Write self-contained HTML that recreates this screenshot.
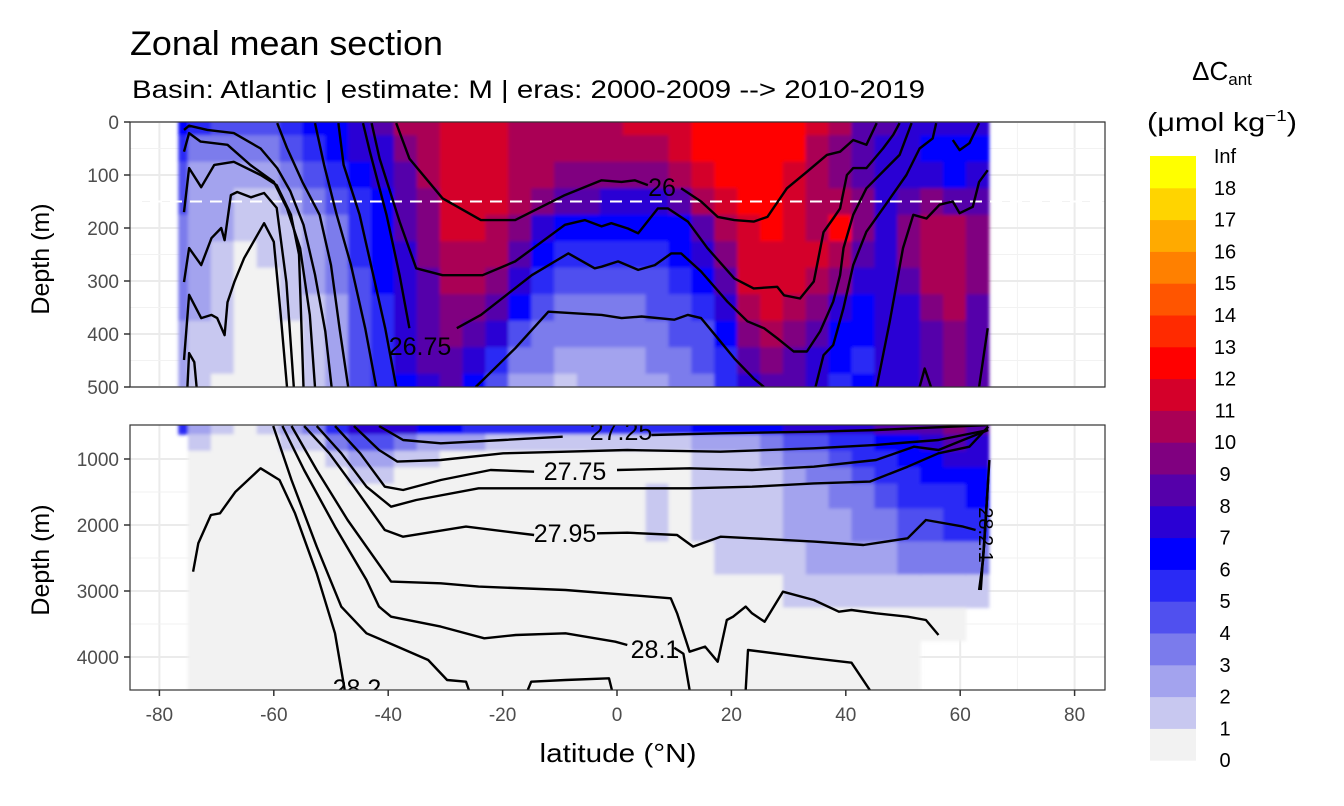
<!DOCTYPE html>
<html><head><meta charset="utf-8"><style>
body{margin:0;background:#fff;}
svg{display:block;font-family:"Liberation Sans",Arial,sans-serif;}
</style></head><body>
<svg id="chart" width="1344" height="806" viewBox="0 0 1344 806">
<defs>
<clipPath id="clipTop"><rect x="130" y="122" width="975" height="265"/></clipPath>
<clipPath id="clipBot"><rect x="130" y="425" width="975" height="265"/></clipPath>
<filter id="soft" x="-5%" y="-5%" width="110%" height="110%"><feGaussianBlur stdDeviation="1.6"/></filter>
</defs>
<text x="130" y="55" font-size="34" textLength="313" lengthAdjust="spacingAndGlyphs" fill="#000">Zonal mean section</text>
<text x="132" y="98" font-size="25" textLength="793" lengthAdjust="spacingAndGlyphs" fill="#000">Basin: Atlantic | estimate: M  | eras: 2000-2009 --&gt; 2010-2019</text>
<g id="gridTop"></g>
<g id="gridBot"></g>
<g clip-path="url(#clipTop)"><g id="heatTop" filter="url(#soft)"></g></g>
<g clip-path="url(#clipBot)"><g id="heatBot" filter="url(#soft)"></g></g>
<line x1="130" x2="1105" y1="201.5" y2="201.5" stroke="#fff" stroke-width="2" stroke-dasharray="12,8"/>
<g id="contTop" clip-path="url(#clipTop)"></g>
<g id="contBot" clip-path="url(#clipBot)"></g>
<g font-size="25" fill="#000">
<text x="662" y="196" text-anchor="middle">26</text>
<text x="420" y="355" text-anchor="middle">26.75</text>
<g clip-path="url(#clipBot)">
<text x="621" y="440" text-anchor="middle">27.25</text>
<text x="575" y="480" text-anchor="middle">27.75</text>
<text x="565" y="542" text-anchor="middle">27.95</text>
<text x="655" y="658" text-anchor="middle">28.1</text>
<text x="357" y="697" text-anchor="middle">28.2</text>
<text x="0" y="0" font-size="20" transform="translate(979,535) rotate(90)" text-anchor="middle">28.2.1</text>
</g>
</g>
<rect x="130" y="122" width="975" height="265" fill="none" stroke="#333" stroke-width="1.2"/>
<rect x="130" y="425" width="975" height="265" fill="none" stroke="#333" stroke-width="1.2"/>
<g id="axes" font-size="19" fill="#4d4d4d"></g>
<text transform="translate(49,259) rotate(-90)" text-anchor="middle" font-size="25">Depth (m)</text>
<text transform="translate(49,560) rotate(-90)" text-anchor="middle" font-size="25">Depth (m)</text>
<text x="618" y="762" text-anchor="middle" font-size="26" textLength="157" lengthAdjust="spacingAndGlyphs">latitude (°N)</text>
<g>
<text x="1222" y="80" text-anchor="middle" font-size="26">ΔC<tspan font-size="17" dy="5">ant</tspan></text>
<text x="1222" y="131" text-anchor="middle" font-size="26" textLength="150" lengthAdjust="spacingAndGlyphs">(μmol kg<tspan font-size="16" dy="-10">−1</tspan><tspan dy="10">)</tspan></text>
<g id="legendBins"></g>
</g>
</svg>
<script>
const NS='http://www.w3.org/2000/svg';
const lats=[-77,-73,-69,-65,-61,-57,-53,-49,-45,-41,-37,-33,-29,-25,-21,-17,-13,-9,-5,-1,3,7,11,15,19,23,27,31,35,39,43,47,51,55,59,63];
const topDepths=[0,50,100,150,200,250,300,350,400,450,500];
const bottomDepths=[500,750,1000,1250,1500,2000,2500,3000,3500,4000,4500];
const topValues=[
[6,5,4,4,3,3,3,3,2,2,2],[5,3,2,2,2,2,2,2,1,1,1],[4,3,2,2,2,1,1,1,1,1,0],[4,3,2,1,1,0,0,0,0,0,0],
[4,3,2,1,1,1,0,0,0,0,0],[5,4,3,2,1,1,1,1,0,0,0],[6,5,4,3,2,2,2,1,1,1,1],[6,6,5,4,3,3,3,2,2,2,2],
[7,7,6,5,5,5,4,4,4,4,4],[8,7,7,6,6,6,6,5,5,5,5],[10,9,8,8,8,7,7,7,7,7,6],[10,10,10,9,9,9,8,8,8,8,7],
[11,11,11,11,11,10,10,9,9,8,8],[11,11,11,11,11,10,10,9,8,7,6],[11,11,11,11,10,10,9,8,7,5,4],[10,10,10,10,9,8,7,6,4,3,2],
[10,10,10,9,7,6,5,4,3,3,2],[10,10,9,8,6,5,4,3,3,2,1],[10,10,9,8,6,5,4,3,3,2,2],[10,10,9,7,6,5,4,3,3,2,2],
[11,10,9,7,6,5,4,3,3,2,2],[11,10,9,7,6,5,4,4,3,3,2],[11,11,10,8,6,6,5,4,4,3,3],[12,12,11,10,8,7,6,5,4,4,3],
[12,12,12,11,10,9,8,7,6,5,5],[12,12,12,12,11,11,11,10,9,8,7],[12,12,12,12,12,11,11,11,10,9,8],[12,12,11,11,11,11,11,10,9,8,8],
[11,10,10,10,10,11,10,9,8,7,7],[10,9,9,10,12,10,9,7,6,6,5],[8,8,8,9,9,8,7,6,6,5,6],[8,7,7,7,7,7,7,7,7,7,7],
[7,7,7,8,9,9,8,7,7,7,7],[7,6,7,9,10,10,10,9,8,8,8],[7,6,6,8,10,10,10,10,9,9,9],[7,6,7,8,9,9,9,8,8,8,8]];
const N=null;
const bottomValues=[
[5,N,N,N,N,N,N,N,N,N,N],[2,1,0,0,0,0,0,0,0,0,0],[1,0,0,0,0,0,0,0,0,0,0],[0,0,0,0,0,0,0,0,0,0,0],
[1,0,0,0,0,0,0,0,0,0,0],[2,1,0,0,0,0,0,0,0,0,0],[3,1,0,0,0,0,0,0,0,0,0],[5,3,1,0,0,0,0,0,0,0,0],
[7,4,2,1,0,0,0,0,0,0,0],[7,4,2,1,0,0,0,0,0,0,0],[7,3,1,0,0,0,0,0,0,0,0],[6,2,1,0,0,0,0,0,0,0,0],
[6,2,0,0,0,0,0,0,0,0,0],[5,2,0,0,0,0,0,0,0,0,0],[5,1,0,0,0,0,0,0,0,0,0],[5,1,0,0,0,0,0,0,0,0,0],
[5,1,0,0,0,0,0,0,0,0,0],[5,1,0,0,0,0,0,0,0,0,0],[5,1,0,0,0,0,0,0,0,0,0],[5,1,0,0,0,0,0,0,0,0,0],
[5,1,0,0,0,0,0,0,0,0,0],[5,1,0,0,1,1,0,0,0,0,0],[5,1,0,0,0,0,0,0,0,0,0],[6,2,1,1,1,1,0,0,0,0,0],
[6,2,1,1,1,1,1,0,0,0,0],[6,2,1,1,1,1,1,0,0,0,0],[6,3,2,1,1,1,1,0,0,0,0],[7,4,3,2,2,2,1,1,0,0,0],
[7,4,3,3,2,2,2,1,0,0,0],[7,5,4,3,3,2,2,1,0,0,0],[7,5,5,4,3,3,2,1,0,0,0],[8,6,5,5,4,3,2,1,0,0,0],
[8,6,6,5,5,4,3,1,0,0,0],[8,7,6,6,5,4,3,1,0,N,N],[9,8,7,6,5,5,3,1,0,N,N],[8,7,7,6,6,5,3,1,N,N,N]];
const binColors=['#f2f2f2','#c8c8f0','#a3a3ee','#7b7bec','#5050ef','#2a2af5','#0000ff','#2a00d4','#5500aa','#800080','#aa0055','#d4002a','#ff0000','#ff2a00','#ff5500','#ff8000','#ffaa00','#ffd400','#ffff00'];
const binLabels=['0','1','2','3','4','5','6','7','8','9','10','11','12','13','14','15','16','17','18','Inf'];
const xTicks=[-80,-60,-40,-20,0,20,40,60,80];
const topYTicks=[0,100,200,300,400,500];
const bottomYTicks=[1000,2000,3000,4000];
const topContours=[
[[-75.7,15],[-74.8,7],[-71.6,15],[-67,21],[-62.3,50],[-59.4,87],[-57.1,131],[-54.8,194],[-52.8,288],[-51,395],[-49.9,500]],
[[-75.7,56],[-74.8,21],[-72.8,37],[-68.1,43],[-64.1,81],[-60,113],[-57.7,163],[-55.4,238],[-53.7,364],[-52.8,500]],
[[-75.7,170],[-74.8,87],[-72.7,123],[-70.4,81],[-67,75],[-62.3,100],[-59.5,119],[-57,175],[-55.6,250],[-54.8,500]],
[[-75.7,302],[-74.8,238],[-72.7,270],[-70.9,219],[-69.2,200],[-68.6,223],[-67.5,138],[-66.4,132],[-64,142],[-61.7,134],[-59.5,162],[-57.8,302],[-56.5,500]],
[[-75.7,449],[-74.8,326],[-72.7,370],[-70.9,364],[-69.9,370],[-68.6,402],[-68.1,340],[-66.9,302],[-65.2,257],[-61.7,191],[-60,226],[-58.8,364],[-57.7,500]],
[[-75.1,500],[-74.8,436],[-73.9,453],[-73.5,500]],
[[-59.4,2],[-57.7,49],[-55,113],[-52,175],[-50,270],[-48.5,390],[-47,500]],
[[-52.8,2],[-51.2,81],[-49,175],[-46.5,270],[-44,390],[-42.1,500]],
[[-48.7,2],[-47.8,81],[-45,175],[-43,270],[-40.5,390],[-38.6,500]],
[[-44.4,2],[-43.2,56],[-40.3,175],[-38,289],[-36.3,389]],
[[-28,389],[-23.8,364],[-14.9,289],[-8.5,248],[-3.9,276],[-2.7,273],[0.2,263],[3.7,279],[6.6,270],[9.5,248],[11.2,248],[14.7,282],[19.3,339],[22.8,376],[25.7,389],[28,408],[30.9,433],[33.2,433],[35.5,395],[37.8,339],[39,289],[39.6,238],[41.3,175],[43.6,125],[47.1,87],[49.4,62],[51.5,2]],
[[-42.9,2],[-41.5,69],[-38,188],[-35.1,276],[-30.5,289],[-23.5,289],[-17.8,263],[-9.1,194],[-5.6,185],[-2.7,197],[-1,191],[1.9,201],[3.7,210],[7.15,163],[8.9,163],[12.4,188],[15.8,238],[20.5,295],[23.9,314],[28,311],[29.2,327],[32,333],[34.4,301],[36.1,208],[37.8,182],[39,163],[40.2,100],[41.3,87],[43.6,87],[46.5,50],[48.3,24],[49.4,2]],
[[-38.6,2],[-36.3,69],[-30.5,144],[-23.8,185],[-17.8,185],[-9.1,138],[-2.7,110],[0.8,113],[3.1,110],[5.4,119]],
[[11.2,125],[14.7,150],[17.6,179],[20.5,185],[23.9,188],[26.3,179],[29.7,125],[33.2,94],[36.7,62],[39,56],[41.3,34],[43.6,43],[45.4,2]],
[[-24.7,500],[-17.8,427],[-12,358],[-2.7,364],[0.8,370],[4.3,367],[10,373],[12.4,364],[14.7,370],[17.6,408],[20.5,446],[23.9,484],[25.7,500]],
[[34.7,500],[36.1,440],[37.8,421],[39.6,351],[41.3,270],[43.6,207],[46.5,163],[50.6,100],[52.9,50],[55.2,31],[55.8,2]],
[[45.4,500],[47.7,376],[50,238],[51.8,175],[54.1,182],[56.4,156],[58.7,150],[59.9,172],[62.2,160],[63.3,113],[64.8,91]],
[[63.3,500],[64.8,389]],
[[52.9,500],[53.8,465],[54.9,500]],
[[58.7,34],[59.9,53],[61.6,40],[63.3,2]]];
const bottomContours=[
[[-74.1,2707],[-73.2,2278],[-71,1848],[-69.4,1823],[-66.7,1495],[-62.3,1141],[-59,1318],[-56.3,1823],[-52.5,2732],[-49.3,3641],[-47.6,4500]],
[[-60.1,500],[-56.9,1318],[-52.5,2328],[-48.2,3238],[-43.8,3641],[-38.4,3843],[-33,4045],[-29.7,4348],[-26.4,4374],[-25.9,4500]],
[[-58.5,500],[-54.7,1167],[-49.3,2025],[-43.8,2833],[-41.6,3237],[-39.5,3389],[-30.8,3539],[-23.2,3717],[-17.7,3666],[-9,3641],[-0.3,3768],[1.8,3818]],
[[10,3860],[11.6,3950],[12.7,4500]],
[[22.5,4500],[22.9,3894],[34.4,4020],[41,4086],[44.2,4500]],
[[-56.9,500],[-52.5,1167],[-47.1,1924],[-39.5,2858],[-30.8,2884],[-24.2,2934],[-9,2985],[9.4,3111],[10.5,3338],[12.7,3919],[15.4,3843],[17.6,4071],[19.2,3439],[20.3,3389],[22.5,3237],[23.6,3338],[25.8,3465],[29,3010],[34.4,3136],[38.8,3313],[41,3288],[45.3,3338],[50.8,3389],[54,3439],[56.2,3667]],
[[-54.7,500],[-50.3,914],[-46,1419],[-40.6,2076],[-37.4,2177],[-26.4,2025],[-14.5,2151]],
[[-3.5,2126],[1.8,2116],[10.5,2151],[13.3,2328],[18.1,2177],[23.6,2202],[34.4,2252],[43.1,2303],[50.8,2202],[54,1924],[60.5,2025],[62.7,2076]],
[[-52.5,500],[-48.2,914],[-43.8,1419],[-39.5,1722],[-35.1,1621],[-24.2,1444],[-9,1444],[1.8,1444],[12.7,1444],[23.6,1419],[34.4,1369],[44.2,1343],[50.8,1116],[56.2,914],[61.6,813],[64.9,510]],
[[-49.3,500],[-44.9,914],[-40.6,1419],[-37.4,1470],[-30.8,1318],[-22.1,1167],[-14.5,1192]],
[[0,1167],[12.7,1141],[23.6,1167],[34.4,1116],[45.3,1015],[51.9,813],[56.2,864],[60.5,712],[64.9,560]],
[[-46,500],[-41.6,864],[-38.4,1040],[-30.8,1015],[-19.9,914],[-9,889],[1.8,864],[18.1,889],[34.4,838],[45.3,787],[56.2,712],[64.9,560]],
[[-41.6,500],[-37.4,712],[-30.8,762],[-19.9,712],[-9.5,662]],
[[6,636],[18.1,611],[34.4,586],[45.3,560],[64.9,485]],
[[65.1,1015],[64.4,1975],[63.6,2985]],
[[64.7,1571],[64,2530],[63.3,2985]],
[[64.9,1300],[64.2,2300],[63.5,2930]],
[[-15.6,4500],[-15,4374],[-9,4348],[-1.4,4323],[-0.9,4500]]];

const xS=l=>617+l*5.72;
const yTop=d=>122+d*0.53;
const yBot=d=>459+(d-1000)*0.066;
const LAT_MIN=-76.7, LAT_MAX=65;
function binColor(v){let k=Math.floor(v);if(k<0)k=0;if(k>18)k=18;return binColors[k];}
function bounds(arr,lo,hi){const b=[lo];for(let i=1;i<arr.length;i++)b.push((arr[i-1]+arr[i])/2);b.push(hi);return b;}
function drawHeat(g,values,depths,d0,d1,yf,prefix,extTop,extBot){
  const xb=bounds(lats,LAT_MIN,LAT_MAX), yb=bounds(depths,d0,d1);
  values.forEach((col,i)=>{col.forEach((v,j)=>{
    if(v===null)return;
    const r=document.createElementNS(NS,'rect');
    const x0=xS(xb[i]),x1=xS(xb[i+1]);
    let y0=yf(yb[j]),y1=yf(yb[j+1]);
    if(j===0)y0-=extTop; if(j===col.length-1)y1+=extBot;
    r.setAttribute('x',x0);r.setAttribute('y',y0);
    r.setAttribute('width',x1-x0+0.6);r.setAttribute('height',y1-y0+0.6);
    r.setAttribute('fill',binColor(v));
    
    
    g.appendChild(r);});});
}
drawHeat(document.getElementById('heatTop'),topValues,topDepths,0,500,yTop,'top-heatmap',6,6);
drawHeat(document.getElementById('heatBot'),bottomValues,bottomDepths,500,4500,yBot,'bottom-heatmap',6,6);
function drawCont(g,lines,yf){
  lines.forEach(pts=>{
    const p=document.createElementNS(NS,'path');
    p.setAttribute('d',pts.map((q,i)=>(i?'L':'M')+xS(q[0]).toFixed(1)+','+yf(q[1]).toFixed(1)).join(''));
    p.setAttribute('fill','none');p.setAttribute('stroke','#000');p.setAttribute('stroke-width','2.4');
    p.setAttribute('stroke-linejoin','round');
    
    
    g.appendChild(p);});
}
drawCont(document.getElementById('contTop'),topContours,yTop);
drawCont(document.getElementById('contBot'),bottomContours,yBot);
function line(g,x1,y1,x2,y2,c,w,name){const l=document.createElementNS(NS,'line');
  l.setAttribute('x1',x1);l.setAttribute('y1',y1);l.setAttribute('x2',x2);l.setAttribute('y2',y2);
  l.setAttribute('stroke',c);l.setAttribute('stroke-width',w);
  
  
  g.appendChild(l);}
function text(g,x,y,s,anchor,name){const t=document.createElementNS(NS,'text');
  t.setAttribute('x',x);t.setAttribute('y',y);t.setAttribute('text-anchor',anchor);t.textContent=s;
  
  
  g.appendChild(t);}
const gT=document.getElementById('gridTop'),gB=document.getElementById('gridBot'),ax=document.getElementById('axes');
xTicks.forEach((t,i)=>{
  const x=xS(t),xm=xS(t+10);
  line(gT,x,122,x,387,'#ebebeb',2,'x-grid-major');line(gB,x,425,x,690,'#ebebeb',2,'x-grid-major');
  if(i<xTicks.length-1&&xm<1105){line(gT,xm,122,xm,387,'#f2f2f2',1,'x-grid-minor');line(gB,xm,425,xm,690,'#f2f2f2',1,'x-grid-minor');}
  line(ax,x,690,x,696,'#333',1.5,'x-tick');
  text(ax,x,721,t,'middle','x-tick-label');
});
topYTicks.forEach((t,i)=>{const y=yTop(t);
  line(gT,130,y,1105,y,'#ebebeb',2,'y-grid-major');
  if(i<topYTicks.length-1){const ym=yTop(t+50);line(gT,130,ym,1105,ym,'#f2f2f2',1,'y-grid-minor');}
  line(ax,124,y,130,y,'#333',1.5,'y-tick');text(ax,119,y+7,t,'end','y-tick-label-top');});
bottomYTicks.forEach(t=>{const y=yBot(t);
  line(gB,130,y,1105,y,'#ebebeb',2,'y-grid-major');
  const ym=yBot(t+500);if(ym<690)line(gB,130,ym,1105,ym,'#f2f2f2',1,'y-grid-minor');
  line(ax,124,y,130,y,'#333',1.5,'y-tick');text(ax,119,y+7,t,'end','y-tick-label-bottom');});
const lg=document.getElementById('legendBins');
const binH=31.8, lgTop=156;
binColors.forEach((c,k)=>{const r=document.createElementNS(NS,'rect');
  const y=lgTop+(18-k)*binH;
  r.setAttribute('x',1150);r.setAttribute('y',y);r.setAttribute('width',46);r.setAttribute('height',binH+0.5);
  r.setAttribute('fill',c);
  
  
  lg.appendChild(r);});
binLabels.forEach((s,k)=>{const t=document.createElementNS(NS,'text');
  t.setAttribute('x',1225);t.setAttribute('y',lgTop+(19-k)*binH+7);t.setAttribute('text-anchor','middle');
  t.setAttribute('font-size','20');t.textContent=s;
  
  
  lg.appendChild(t);});
</script>
</body></html>
